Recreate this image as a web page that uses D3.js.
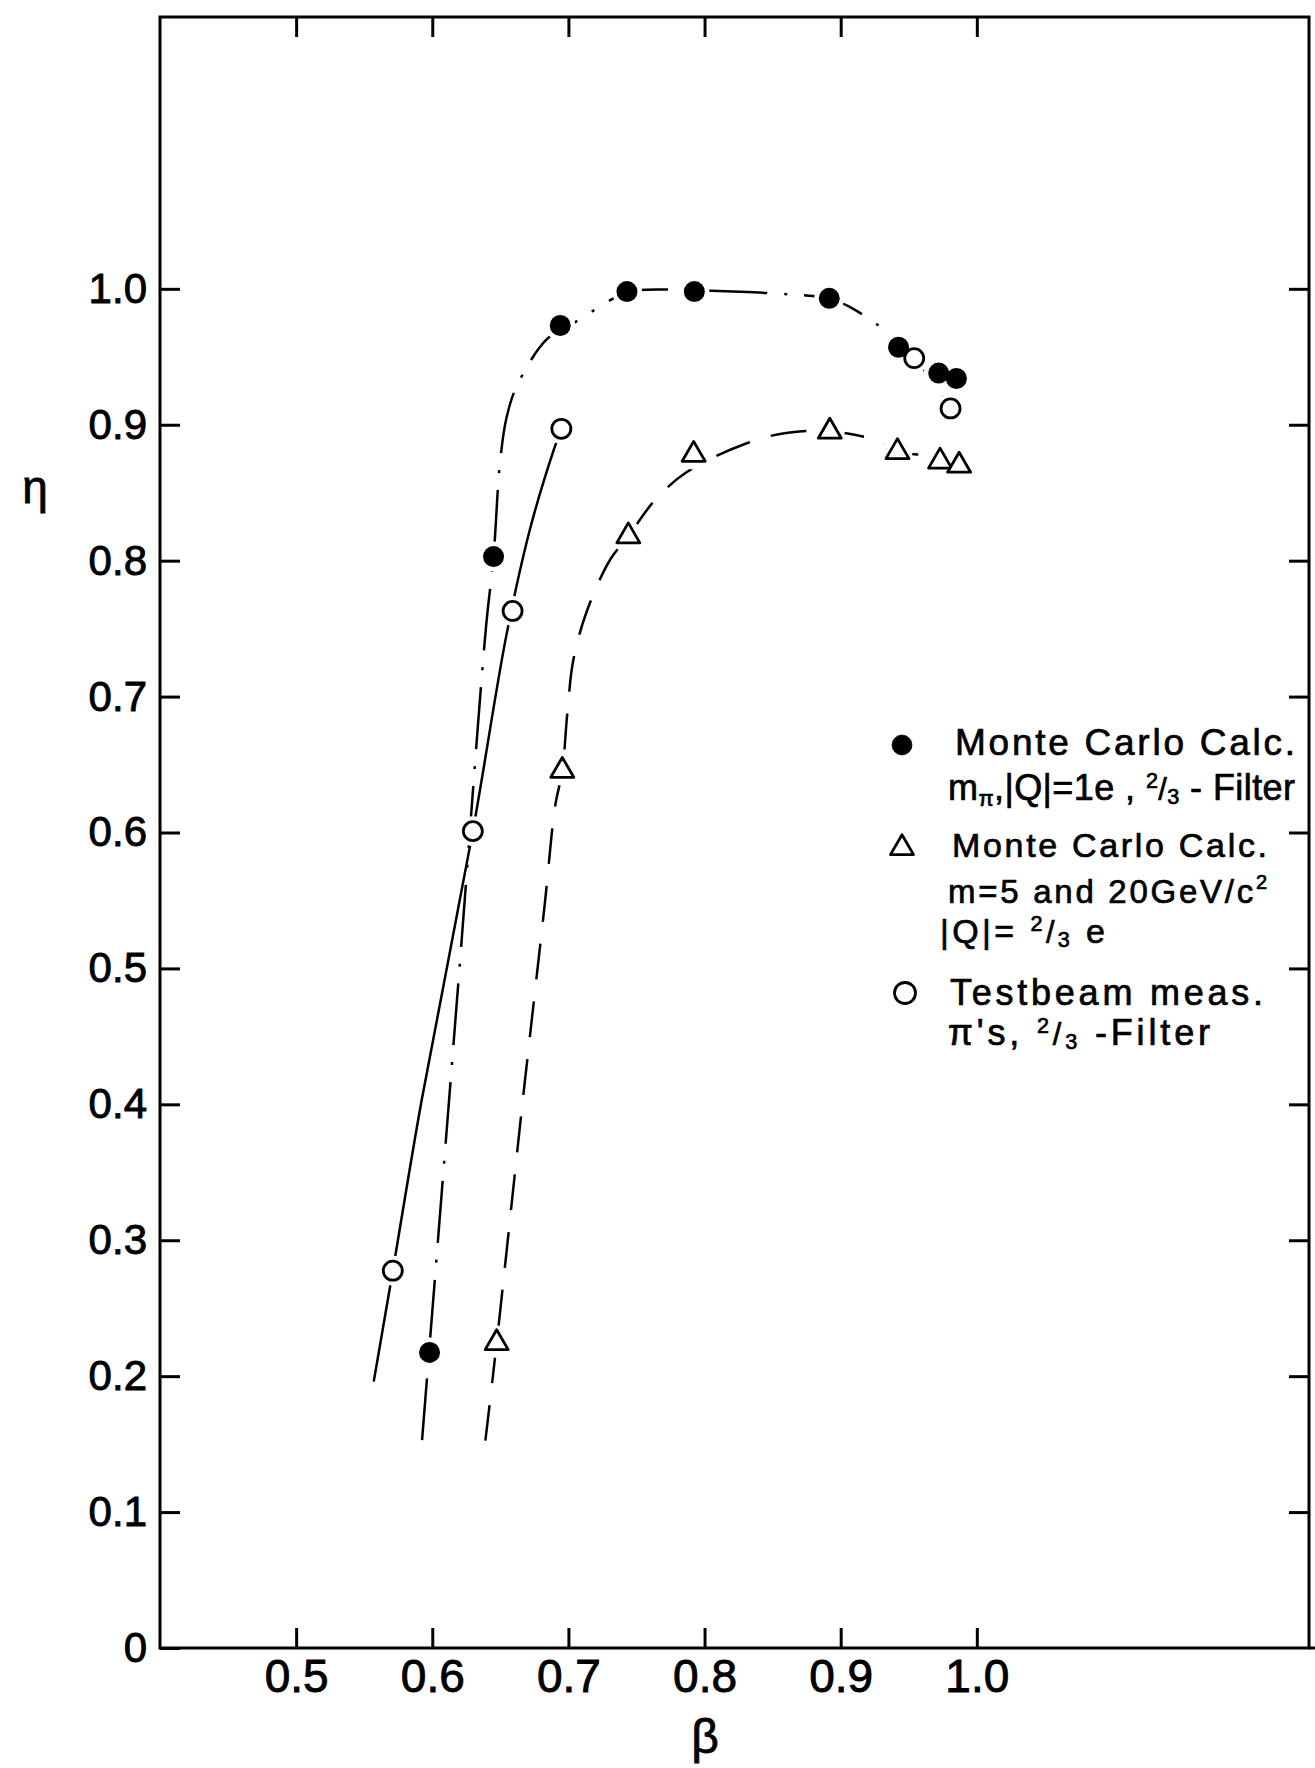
<!DOCTYPE html>
<html><head><meta charset="utf-8">
<script src="https://cdn.jsdelivr.net/npm/d3@7"></script>
<style>body{margin:0;background:#fff}svg{display:block}</style>
</head><body><svg id="c" width="1315" height="1768"></svg>
<script>
// ---- data ----
const xTicks = [0.5, 0.6, 0.7, 0.8, 0.9, 1.0];
const xTickLabels = ["0.5", "0.6", "0.7", "0.8", "0.9", "1.0"];
const yTicks = [0, 0.1, 0.2, 0.3, 0.4, 0.5, 0.6, 0.7, 0.8, 0.9, 1.0];
const yTickLabels = ["0", "0.1", "0.2", "0.3", "0.4", "0.5", "0.6", "0.7", "0.8", "0.9", "1.0"];

// Monte Carlo, m_pi, |Q|=1e (filled circles)
const filledBeta = [0.598, 0.645, 0.694, 0.743, 0.7925, 0.8916, 0.9425, 0.972, 0.985];
const filledEta  = [0.2175, 0.803, 0.973, 0.998, 0.998, 0.993, 0.957, 0.938, 0.934];
// Monte Carlo, m=5 and 20 GeV/c^2, |Q|=2/3 e (triangles)
const triBeta = [0.6473, 0.6955, 0.744, 0.792, 0.892, 0.9417, 0.973, 0.987];
const triEta  = [0.2244, 0.6455, 0.818, 0.878, 0.895, 0.880, 0.873, 0.870];
// Testbeam measurement (open circles)
const openBeta = [0.571, 0.6298, 0.659, 0.6948, 0.954, 0.9807];
const openEta  = [0.2776, 0.601, 0.763, 0.897, 0.949, 0.912];

// hand-drawn guide curves
const curveFilledBeta = [0.5925, 0.6194, 0.6395, 0.645, 0.6497, 0.6546, 0.6619, 0.684, 0.7036, 0.7317, 0.743, 0.7925, 0.8797, 0.8916, 0.9056, 0.9334, 0.9425, 0.954, 0.9807];
const curveFilledEta  = [0.153, 0.4927, 0.7515, 0.803, 0.8716, 0.9055, 0.928, 0.9628, 0.9746, 0.9922, 0.998, 0.999, 0.9947, 0.993, 0.9873, 0.9684, 0.957, 0.949, 0.912];
const curveTriBeta = [0.639, 0.6473, 0.6661, 0.6828, 0.6902, 0.6955, 0.6992, 0.7036, 0.7134, 0.7305, 0.744, 0.7636, 0.7867, 0.83, 0.86, 0.892, 0.9252, 0.9417, 0.9643, 0.973, 0.987];
const curveTriEta  = [0.1525, 0.2244, 0.3995, 0.549, 0.619, 0.6455, 0.6877, 0.7269, 0.7624, 0.8005, 0.818, 0.8446, 0.865, 0.886, 0.894, 0.895, 0.8889, 0.880, 0.877, 0.873, 0.870];
const curveOpenBeta = [0.557, 0.571, 0.5922, 0.6298, 0.6547, 0.672, 0.6894, 0.6948];
const curveOpenEta  = [0.196, 0.2776, 0.403, 0.601, 0.7465, 0.824, 0.882, 0.897];

// ---- drawing ----
const L = 160, R = 1309, T = 17, B = 1648;
const x = d3.scaleLinear().domain([0.4, 1.244]).range([L, R]);
const y = d3.scaleLinear().domain([0, 1.2]).range([B, T]);
const svg = d3.select("#c");
const font = "'Liberation Sans', Arial, sans-serif";
const zip = (a, b) => a.map((v, i) => [v, b[i]]);

// frame
svg.append("rect").attr("x", L).attr("y", T).attr("width", R - L).attr("height", B - T)
  .attr("fill", "none").attr("stroke", "#000").attr("stroke-width", 3);
svg.append("line").attr("x1", R).attr("x2", 1315).attr("y1", B).attr("y2", B)
  .attr("stroke", "#000").attr("stroke-width", 3);

function styleAxis(g, fs) {
  g.select(".domain").remove();
  g.selectAll(".tick line").attr("stroke", "#000").attr("stroke-width", 3);
  g.selectAll(".tick text").attr("font-family", font).attr("font-size", fs).attr("fill", "#000")
    .attr("stroke", "#000").attr("stroke-width", 0.9);
}
const gb = svg.append("g").attr("transform", `translate(0,${B})`)
  .call(d3.axisBottom(x).tickValues(xTicks).tickSize(-20).tickPadding(11)
    .tickFormat((d, i) => xTickLabels[i]));
styleAxis(gb, 46);
const gt = svg.append("g").attr("transform", `translate(0,${T})`)
  .call(d3.axisTop(x).tickValues(xTicks).tickSize(-20).tickFormat(""));
styleAxis(gt, 10);
const gl = svg.append("g").attr("transform", `translate(${L},0)`)
  .call(d3.axisLeft(y).tickValues(yTicks).tickSize(-20).tickPadding(13)
    .tickFormat((d, i) => yTickLabels[i]));
styleAxis(gl, 42);
const gr = svg.append("g").attr("transform", `translate(${R},0)`)
  .call(d3.axisRight(y).tickValues(yTicks.slice(1)).tickSize(-20).tickFormat(""));
styleAxis(gr, 10);

// axis titles
svg.append("text").attr("x", 35).attr("y", 503).attr("text-anchor", "middle")
  .attr("font-family", font).attr("font-size", 46).attr("stroke", "#000").attr("stroke-width", 0.8).text("η");
svg.append("text").attr("x", 705).attr("y", 1753).attr("text-anchor", "middle")
  .attr("font-family", font).attr("font-size", 48).attr("stroke", "#000").attr("stroke-width", 0.8).text("β");

// curves
const line = d3.line().x(d => x(d[0])).y(d => y(d[1])).curve(d3.curveCatmullRom.alpha(0.5));
svg.append("path").attr("d", line(zip(curveFilledBeta, curveFilledEta)))
  .attr("fill", "none").attr("stroke", "#000").attr("stroke-width", 2.5)
  .attr("stroke-dasharray", "62,17,3,17");
svg.append("path").attr("d", line(zip(curveTriBeta, curveTriEta)))
  .attr("fill", "none").attr("stroke", "#000").attr("stroke-width", 2.5)
  .attr("stroke-dasharray", "36,22");
svg.append("path").attr("d", line(zip(curveOpenBeta, curveOpenEta)))
  .attr("fill", "none").attr("stroke", "#000").attr("stroke-width", 2.5);

// halos (line breaks around markers)
const allPts = [...zip(filledBeta, filledEta), ...zip(triBeta, triEta), ...zip(openBeta, openEta)];
svg.append("g").selectAll("circle").data(allPts).join("circle")
  .attr("cx", d => x(d[0])).attr("cy", d => y(d[1])).attr("r", 15).attr("fill", "#fff");

// markers
svg.append("g").selectAll("circle").data(zip(filledBeta, filledEta)).join("circle")
  .attr("cx", d => x(d[0])).attr("cy", d => y(d[1])).attr("r", 10.5).attr("fill", "#000");
const tri = d3.symbol().type(d3.symbolTriangle).size(230);
svg.append("g").selectAll("path").data(zip(triBeta, triEta)).join("path")
  .attr("transform", d => `translate(${x(d[0])},${y(d[1])})`).attr("d", tri)
  .attr("fill", "#fff").attr("stroke", "#000").attr("stroke-width", 2.8).attr("stroke-linejoin", "round");
svg.append("g").selectAll("circle").data(zip(openBeta, openEta)).join("circle")
  .attr("cx", d => x(d[0])).attr("cy", d => y(d[1])).attr("r", 9.5)
  .attr("fill", "#fff").attr("stroke", "#000").attr("stroke-width", 2.8);

// legend
const lg = svg.append("g").attr("font-family", font).attr("fill", "#000")
  .attr("stroke", "#000").attr("stroke-width", 0.7);
lg.append("circle").attr("cx", 902).attr("cy", 745).attr("r", 10).attr("fill", "#000");
lg.append("path").attr("transform", "translate(902,848)").attr("d", tri)
  .attr("fill", "#fff").attr("stroke", "#000").attr("stroke-width", 2.8).attr("stroke-linejoin", "round");
lg.append("circle").attr("cx", 905).attr("cy", 993).attr("r", 10.5)
  .attr("fill", "#fff").attr("stroke", "#000").attr("stroke-width", 2.8);

function frac(t, fs) {
  t.append("tspan").attr("font-size", fs * 0.6).attr("dy", -fs * 0.32).text("2");
  t.append("tspan").attr("font-size", fs * 0.85).attr("dy", fs * 0.32).text("/");
  t.append("tspan").attr("font-size", fs * 0.6).attr("dy", fs * 0.1).text("3");
}
function txt(xp, yp, fs, len) {
  const t = lg.append("text").attr("x", xp).attr("y", yp).attr("font-size", fs);
  if (len) t.attr("textLength", len).attr("lengthAdjust", "spacing");
  return t;
}
txt(955, 755, 37, 340).text("Monte Carlo Calc.");
{
  const t = txt(948, 800, 36, 347);
  t.append("tspan").text("m");
  t.append("tspan").attr("font-size", 22).attr("dy", 6).text("π");
  t.append("tspan").attr("dy", -6).text(",|Q|=1e , ");
  frac(t, 36);
  t.append("tspan").attr("dy", -3.6).text(" - Filter");
}
txt(952, 857, 34, 315).text("Monte Carlo Calc.");
{
  const t = txt(948, 903, 33, 319);
  t.append("tspan").text("m=5 and 20GeV/c");
  t.append("tspan").attr("font-size", 20).attr("dy", -14).text("2");
}
{
  const t = txt(940, 943, 34, 165);
  t.append("tspan").text("|Q|= ");
  frac(t, 36);
  t.append("tspan").attr("dy", -3.6).text(" e");
}
txt(950, 1005, 36, 313).text("Testbeam meas.");
{
  const t = txt(948, 1045, 36, 262);
  t.append("tspan").text("π's, ");
  frac(t, 36);
  t.append("tspan").attr("dy", -3.6).text(" -Filter");
}
</script></body></html>
